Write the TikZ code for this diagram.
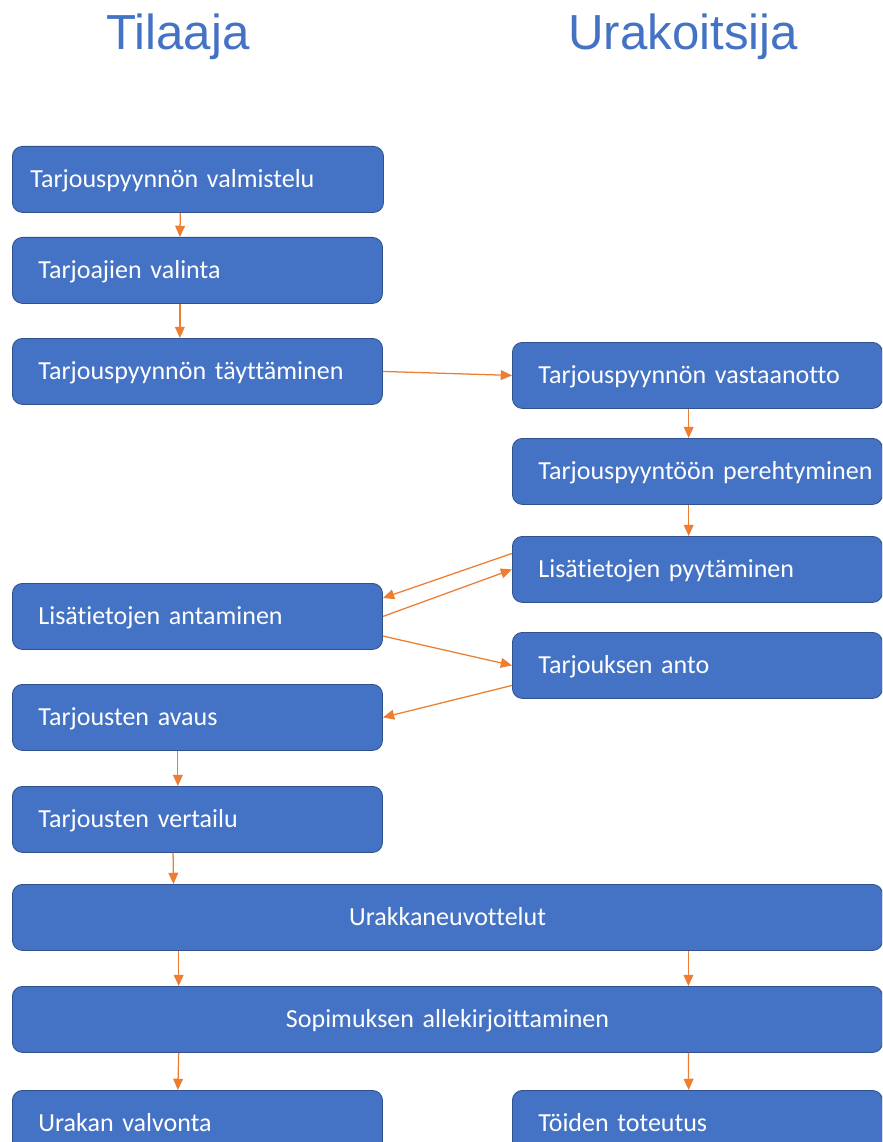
\documentclass[tikz,border=0pt]{standalone}
\usepackage{fontspec}
\setmainfont{Carlito}[Ligatures=NoCommon]
\newfontfamily\headfont{Liberation Sans}
\usetikzlibrary{arrows.meta}
\definecolor{boxblue}{HTML}{4472C4}
\definecolor{boxedge}{HTML}{2F528F}
\definecolor{flowline}{HTML}{ED7D31}
\begin{document}
\begin{tikzpicture}[x=0.025cm,y=-0.025cm,
  head/.style={anchor=base,text=boxblue,font=\headfont\fontsize{35}{40}\selectfont},
  phase/.style={draw=boxedge,line width=0.6pt,fill=boxblue,rounded corners=0.25cm,anchor=north west,
    minimum height=1.65cm,inner xsep=0.65cm,text width=7.95cm,align=left,text=white,
    font=\fontsize{18.5}{22}\selectfont,text height=0.57cm,text depth=0.17cm},
  wide/.style={phase,text width=20.45cm,align=center},
  flow/.style={draw=flowline,line width=0.9pt,-{Triangle[length=8pt,width=7pt]}}]
\clip (0,0) rectangle (882,1142);

\node[head] (tilaaja) at (178,50) {Tilaaja};
\node[head] (urakoitsija) at (683,50) {Urakoitsija};

\node[phase,inner xsep=0.45cm,text width=8.375cm] (valmistelu) at (12,146) {Tarjouspyynnön valmistelu};
\node[phase] (valinta) at (12,237) {Tarjoajien valinta};
\node[phase] (taytto) at (12,338) {Tarjouspyynnön täyttäminen};
\node[phase] (vastaanotto) at (512,342) {Tarjouspyynnön vastaanotto};
\node[phase] (perehtyminen) at (512,438) {\mbox{Tarjouspyyntöön perehtyminen}};
\node[phase] (pyytaminen) at (512,536) {Lisätietojen pyytäminen};
\node[phase] (antaminen) at (12,583) {Lisätietojen antaminen};
\node[phase] (anto) at (512,632) {Tarjouksen anto};
\node[phase] (avaus) at (12,684) {Tarjousten avaus};
\node[phase] (vertailu) at (12,786) {Tarjousten vertailu};
\node[wide] (neuvottelut) at (12,884) {Urakkaneuvottelut};
\node[wide] (allekirjoitus) at (12,986) {Sopimuksen allekirjoittaminen};
\node[phase] (valvonta) at (12,1090) {Urakan valvonta};
\node[phase] (toteutus) at (512,1090) {Töiden toteutus};

\draw[flow] ([xshift=-0.44cm]valmistelu.south) -- ([xshift=-0.44cm]valinta.north);
\draw[flow] ([xshift=-0.44cm]valinta.south) -- ([xshift=-0.44cm]taytto.north);
\draw[flow] (taytto.east) -- (vastaanotto.west);
\draw[flow] ([xshift=-0.22cm]vastaanotto.south) -- ([xshift=-0.22cm]perehtyminen.north);
\draw[flow] ([xshift=-0.22cm]perehtyminen.south) -- ([xshift=-0.22cm]pyytaminen.north);
\draw[flow] ([yshift=0.4cm]pyytaminen.west) -- ([yshift=0.46cm]antaminen.east);
\draw[flow] (antaminen.east) -- (pyytaminen.west);
\draw[flow] ([yshift=-0.49cm]antaminen.east) -- (anto.west);
\draw[flow] ([yshift=-0.5cm]anto.west) -- (avaus.east);
\draw[flow] ([xshift=-0.49cm]avaus.south) -- ([xshift=-0.49cm]vertailu.north);
\draw[flow] ([xshift=-0.61cm]vertailu.south) -- ([xshift=-6.85cm]neuvottelut.north);
\draw[flow] ([xshift=-6.72cm]neuvottelut.south) -- ([xshift=-6.72cm]allekirjoitus.north);
\draw[flow] ([xshift=6.02cm]neuvottelut.south) -- ([xshift=6.02cm]allekirjoitus.north);
\draw[flow] ([xshift=-6.72cm]allekirjoitus.south) -- ([xshift=-0.49cm]valvonta.north);
\draw[flow] ([xshift=6.02cm]allekirjoitus.south) -- ([xshift=-0.22cm]toteutus.north);
\end{tikzpicture}
\end{document}
